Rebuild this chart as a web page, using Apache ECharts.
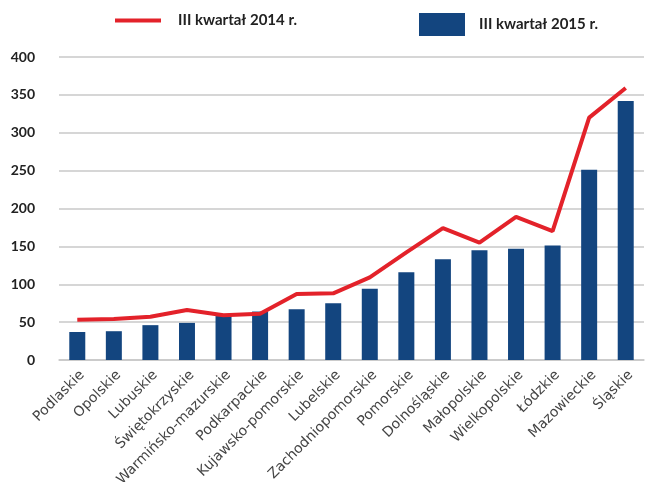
<!DOCTYPE html>
<html>
<head>
<meta charset="utf-8">
<script src="https://cdn.jsdelivr.net/npm/echarts@6/dist/echarts.min.js"></script>
<style>
  html, body { margin: 0; padding: 0; background: #fff; }
  #chart { width: 654px; height: 482px; }
</style>
</head>
<body>
<div id="chart"></div>
<script>
  const regions = [
    "Podlaskie", "Opolskie", "Lubuskie", "Świętokrzyskie", "Warmińsko-mazurskie",
    "Podkarpackie", "Kujawsko-pomorskie", "Lubelskie", "Zachodniopomorskie", "Pomorskie",
    "Dolnośląskie", "Małopolskie", "Wielkopolskie", "Łódzkie", "Mazowieckie", "Śląskie"
  ];
  // III kwartał 2014 r. (line)
  const q3_2014 = [53, 54, 57, 66, 59, 61, 87, 88, 109, 142, 174, 155, 189, 170, 320, 359];
  // III kwartał 2015 r. (bars)
  const q3_2015 = [37, 38, 46, 49, 58, 64, 67, 75, 94, 116, 133, 145, 147, 151, 251, 342];
  const yTicks = [0, 50, 100, 150, 200, 250, 300, 350, 400];

  const name2014 = "III kwartał 2014 r.";
  const name2015 = "III kwartał 2015 r.";
  const font = "Lato";

  var myChart = echarts.init(document.getElementById("chart"));
  var option = {
    animation: false,
    legend: [
      {
        left: 110,
        top: 8,
        itemWidth: 46,
        itemHeight: 23,
        data: [{ name: name2014, icon: "path://M0,0H46V4H0Z" }],
        textStyle: { fontFamily: font, fontWeight: "bold", fontSize: 15, color: "#222", padding: [0, 0, 0, 12] },
      },
      {
        left: 414,
        top: 8,
        itemWidth: 46,
        itemHeight: 23,
        data: [{ name: name2015, icon: "rect" }],
        textStyle: { fontFamily: font, fontWeight: "bold", fontSize: 15, color: "#222", padding: [0, 0, 0, 9] },
      },
    ],
    grid: { left: 59, right: 10, top: 57, bottom: 122, outerBoundsMode: "none", containLabel: false },
    xAxis: {
      type: "category",
      data: regions,
      axisTick: { show: false },
      axisLine: { lineStyle: { color: "#c8c8c8", width: 1.5 } },
      axisLabel: {
        interval: 0,
        rotate: 45,
        margin: 8,
        verticalAlign: "top",
        fontFamily: "DejaVu Sans",
        fontSize: 14,
        color: "#444",
      },
    },
    yAxis: {
      type: "value",
      min: yTicks[0],
      max: yTicks[yTicks.length - 1],
      interval: 50,
      axisLine: { show: false },
      axisTick: { show: false },
      splitLine: { lineStyle: { color: "#c8c8c8", width: 1.5 } },
      axisLabel: {
        margin: 24,
        fontFamily: font,
        fontWeight: "bold",
        fontSize: 14,
        color: "#222",
      },
    },
    series: [
      {
        name: name2015,
        type: "bar",
        data: q3_2015,
        barWidth: 16,
        itemStyle: { color: "#13457f" },
      },
      {
        name: name2014,
        type: "line",
        data: q3_2014,
        showSymbol: false,
        symbol: "none",
        lineStyle: { color: "#e3222a", width: 4 },
        itemStyle: { color: "#e3222a" },
      },
    ],
  };
  option && myChart.setOption(option);
</script>
</body>
</html>
